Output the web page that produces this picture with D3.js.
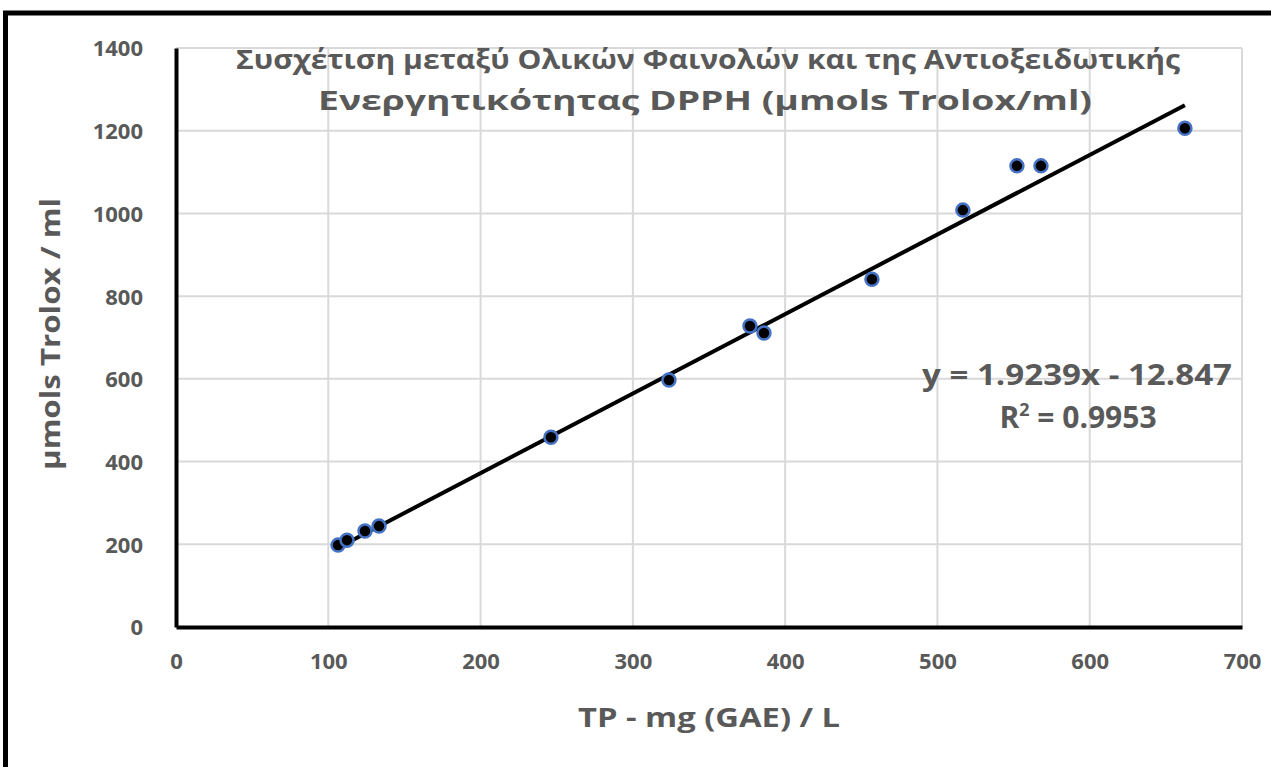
<!DOCTYPE html>
<html>
<head>
<meta charset="utf-8">
<script src="https://cdn.jsdelivr.net/npm/d3@7"></script>
<style>
  html, body { margin: 0; padding: 0; background: #fff; }
  svg { display: block; }
  text { font-family: "Open Sans", "DejaVu Sans", sans-serif; }
</style>
</head>
<body>
<svg id="chart" width="1271" height="767"></svg>
<script>
// ---- data ----
const tpValues      = [106.4, 112.3, 124.1, 133.3, 246.2, 323.7, 376.9, 386.1, 457.0, 516.7, 552.2, 568.0, 662.5];
const troloxValues  = [198, 210, 232, 244, 459, 597, 728, 711, 841, 1008, 1115, 1115, 1206];
const xTicks = [0, 100, 200, 300, 400, 500, 600, 700];
const yTicks = [0, 200, 400, 600, 800, 1000, 1200, 1400];
const slope = 1.9239;
const intercept = -12.847;
const titleLines = ["Συσχέτιση μεταξύ Ολικών Φαινολών και της Αντιοξειδωτικής", "Ενεργητικότητας DPPH  (μmols Trolox/ml)"];
const xLabel = "TP - mg (GAE) / L";
const yLabel = "μmols Trolox / ml";
const eqLine = "y = 1.9239x - 12.847";
const r2Value = "0.9953";

// ---- layout ----
const svg = d3.select("#chart");
const plot = { left: 176, right: 1242, top: 48, bottom: 627 };
const x = d3.scaleLinear().domain([0, 700]).range([plot.left, plot.right]);
const y = d3.scaleLinear().domain([0, 1400]).range([plot.bottom, plot.top]);
const gray = "#595959";

// outer frame
svg.append("rect").attr("x", 5.5).attr("y", 13).attr("width", 1300).attr("height", 800)
  .attr("fill", "none").attr("stroke", "#000").attr("stroke-width", 5);

// gridlines
svg.append("g").selectAll("line").data(yTicks.filter(d => d > 0)).join("line")
  .attr("x1", plot.left).attr("x2", plot.right)
  .attr("y1", d => y(d)).attr("y2", d => y(d))
  .attr("stroke", "#d9d9d9").attr("stroke-width", 2);
svg.append("g").selectAll("line").data(xTicks.filter(d => d > 0)).join("line")
  .attr("y1", plot.top).attr("y2", plot.bottom)
  .attr("x1", d => x(d)).attr("x2", d => x(d))
  .attr("stroke", "#d9d9d9").attr("stroke-width", 2);

// axes via d3
const fmt = d3.format("d");
const xAxis = svg.append("g").attr("transform", `translate(0,${plot.bottom})`)
  .call(d3.axisBottom(x).tickValues(xTicks).tickFormat(fmt).tickSize(0).tickPadding(26));
const yAxis = svg.append("g").attr("transform", `translate(${plot.left},0)`)
  .call(d3.axisLeft(y).tickValues(yTicks).tickFormat(fmt).tickSize(0).tickPadding(33));
[xAxis, yAxis].forEach(g => {
  g.select(".domain").attr("stroke", "#000").attr("stroke-width", 4);
  g.selectAll("text").attr("fill", gray).attr("font-size", 22).attr("font-weight", 700)
    .attr("font-family", "\"Open Sans\", sans-serif");
});
yAxis.selectAll("text").attr("dy", "0.36em");

// trendline
const xMin = d3.min(tpValues), xMax = d3.max(tpValues);
svg.append("line")
  .attr("x1", x(xMin)).attr("y1", y(slope * xMin + intercept))
  .attr("x2", x(xMax)).attr("y2", y(slope * xMax + intercept))
  .attr("stroke", "#000").attr("stroke-width", 4);

// points
svg.append("g").selectAll("circle").data(tpValues.map((v, i) => [v, troloxValues[i]])).join("circle")
  .attr("cx", d => x(d[0])).attr("cy", d => y(d[1])).attr("r", 6.5)
  .attr("fill", "#000").attr("stroke", "#4472C4").attr("stroke-width", 2.5);

// title
const title = svg.append("g").attr("fill", gray).attr("font-weight", 700).attr("font-size", 26);
title.append("text").attr("x", 708).attr("y", 69).attr("text-anchor", "middle")
  .attr("textLength", 944).attr("lengthAdjust", "spacingAndGlyphs").text(titleLines[0]);
title.append("text").attr("x", 705).attr("y", 110).attr("text-anchor", "middle")
  .attr("textLength", 774).attr("lengthAdjust", "spacingAndGlyphs").text(titleLines[1]);

// axis titles
svg.append("text").attr("x", 709).attr("y", 727).attr("text-anchor", "middle")
  .attr("fill", gray).attr("font-weight", 700).attr("font-size", 26)
  .attr("textLength", 262).attr("lengthAdjust", "spacingAndGlyphs").text(xLabel);
svg.append("text").attr("transform", "translate(60,334) rotate(-90)").attr("text-anchor", "middle")
  .attr("fill", gray).attr("font-weight", 700).attr("font-size", 26)
  .attr("textLength", 272).attr("lengthAdjust", "spacingAndGlyphs").text(yLabel);

// equation
const eq = svg.append("g").attr("fill", gray).attr("font-weight", 700).attr("font-size", 29);
eq.append("text").attr("x", 1077).attr("y", 385).attr("text-anchor", "middle")
  .attr("textLength", 310).attr("lengthAdjust", "spacingAndGlyphs").text(eqLine);
const r2 = eq.append("text").attr("x", 1078).attr("y", 428).attr("text-anchor", "middle").attr("font-size", 30);
r2.append("tspan").text("R");
r2.append("tspan").attr("font-size", 18).attr("dy", -12).text("2");
r2.append("tspan").attr("dy", 12).text(" = " + r2Value);
</script>
</body>
</html>
